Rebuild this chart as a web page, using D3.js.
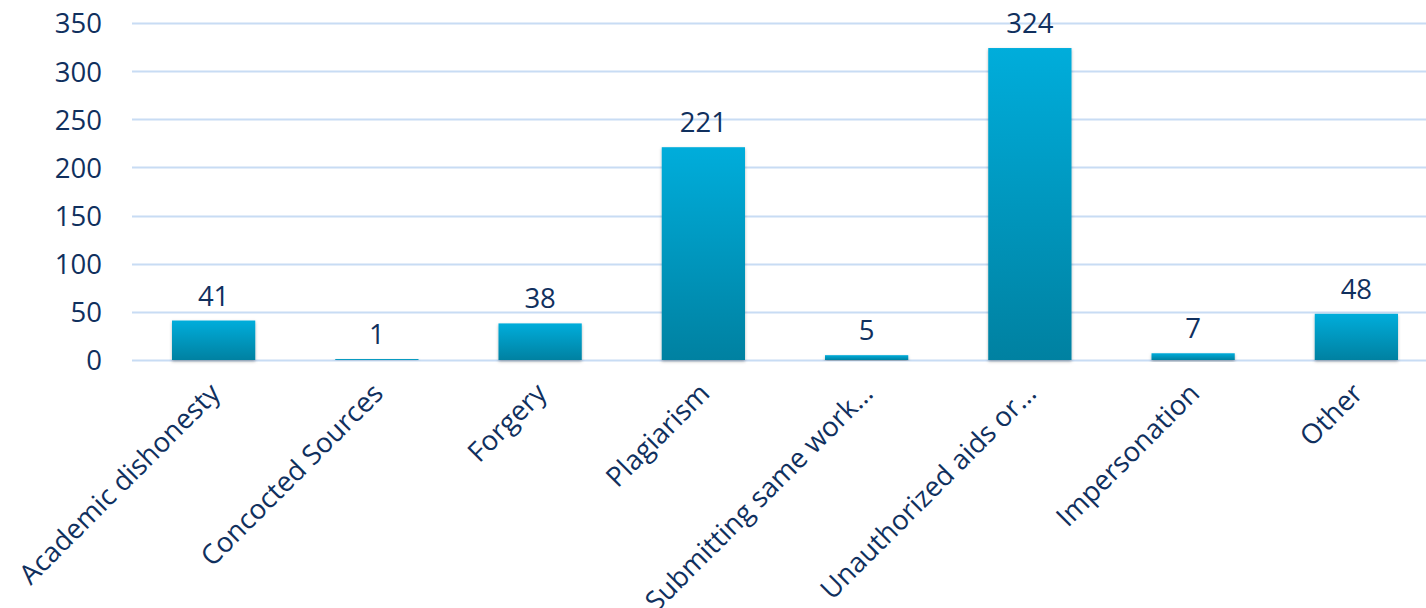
<!DOCTYPE html>
<html><head><meta charset="utf-8">
<script src="https://cdn.jsdelivr.net/npm/d3@7"></script>
<style>body{margin:0;background:#fff}svg{display:block}text{font-family:"Open Sans","Liberation Sans",Arial,sans-serif;fill:#10305e}</style>
</head><body>
<svg id="c" width="1426" height="608"></svg>
<script>
const categories = ["Academic dishonesty","Concocted Sources","Forgery","Plagiarism","Submitting same work…","Unauthorized aids or…","Impersonation","Other"];
const values = [41,1,38,221,5,324,7,48];
const yTicks = [0,50,100,150,200,250,300,350];

(function(){
const svg = d3.select("#c");
const W=1426,H=608;
const mLeft=132, mRight=1438, mTop=23, mBottom=360;
const x = d3.scaleBand().domain(categories).range([mLeft,mRight]).paddingInner(0.49).paddingOuter(0.245);
const y = d3.scaleLinear().domain([0,350]).range([mBottom,mTop]);

const defs = svg.append("defs");
const g = defs.append("linearGradient").attr("id","bg").attr("x1",0).attr("y1",0).attr("x2",0).attr("y2",1);
g.append("stop").attr("offset","0%").attr("stop-color","#00addb");
g.append("stop").attr("offset","100%").attr("stop-color","#0081a1");
const f = defs.append("filter").attr("id","sh").attr("x","-20%").attr("y","-20%").attr("width","140%").attr("height","140%");
f.append("feDropShadow").attr("dx",0).attr("dy",1.5).attr("stdDeviation",1.5).attr("flood-color","#000").attr("flood-opacity",0.3);

svg.append("g").selectAll("line").data(yTicks).join("line")
  .attr("x1",mLeft).attr("x2",W).attr("y1",d=>Math.round(y(d))+0.5).attr("y2",d=>Math.round(y(d))+0.5)
  .attr("stroke","#c8dcf4").attr("stroke-width",2);

const ya = svg.append("g").attr("transform",`translate(${mLeft},0)`)
  .call(d3.axisLeft(y).tickValues(yTicks).tickSize(0).tickPadding(30));
ya.select(".domain").remove();
ya.selectAll("text").style("font-size","27.5px").attr("fill","#10305e").attr("dy","0.36em");

svg.append("g").selectAll("rect").data(values).join("rect")
  .attr("x",(d,i)=>x(categories[i])).attr("width",x.bandwidth())
  .attr("y",d=>y(d)).attr("height",d=>y(0)-y(d))
  .attr("fill","url(#bg)").attr("filter","url(#sh)");

svg.append("g").selectAll("text").data(values).join("text")
  .attr("x",(d,i)=>x(categories[i])+x.bandwidth()/2).attr("y",d=>y(d)-15)
  .attr("text-anchor","middle").style("font-size","27.5px").text(d=>d);

const xa = svg.append("g").attr("transform",`translate(0,${mBottom})`)
  .call(d3.axisBottom(x).tickSize(0).tickPadding(0));
xa.select(".domain").remove();
xa.selectAll("text").style("font-size","27.5px").attr("fill","#10305e")
  .attr("text-anchor","end").attr("dy",0).attr("dx",0).attr("y",0)
  .attr("transform","translate(8,35) rotate(-45)");
})();
</script>
</body></html>
